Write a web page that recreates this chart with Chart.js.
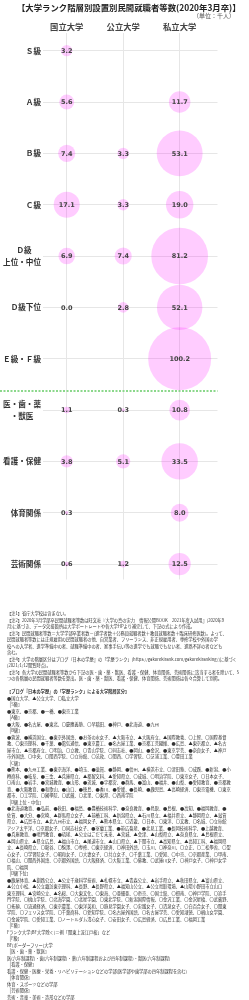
<!DOCTYPE html>
<html lang="ja">
<head>
<meta charset="utf-8">
<script src="https://cdn.jsdelivr.net/npm/chart.js@4.4.1/dist/chart.umd.min.js"></script>
<style>
  body { margin: 0; width: 249px; height: 1000px; overflow: hidden; background: #fff;
         font-family: "Noto Sans CJK JP", sans-serif; color: #333; position: relative; }
  #chart { position: absolute; left: 0; top: 0; }
  #title { position: absolute; left: 17px; top: 1px; font-size: 8.45px; font-weight: bold;
           line-height: 12px; white-space: nowrap; color: #222; }
  #unit { position: absolute; right: 14px; top: 12px; font-size: 6px; line-height: 8px; color: #555; }
  #notes { position: absolute; left: 7px; top: 610px; width: 240px; overflow: hidden;
           font-size: 4.75px; line-height: 6.5px; color: #333; }
  #notes div { white-space: nowrap; height: 6.5px; }
  #notes .hd { font-weight: bold; }
</style>
</head>
<body>
<canvas id="chart" width="249" height="611"></canvas>
<div id="title">【大学ランク階層別設置別民間就職者等数(2020年3月卒)】</div>
<div id="unit">（単位：千人）</div>
<div id="notes"></div>
<script>
// columns (x) and rows (y)
const columns = ['国立大学', '公立大学', '私立大学'];
const rowLabels = [
  ['Ｓ級'], ['Ａ級'], ['Ｂ級'], ['Ｃ級'], ['Ｄ級　 ', '上位・中位'], ['Ｄ級下位'],
  ['Ｅ級・Ｆ級'], ['医・歯・薬', '・獣医　'], ['看護・保健'], ['体育関係'], ['芸術関係']
];

// 千人, null = no entry
const national = [3.2, 5.6, 7.4, 17.1, 6.9, 0.0, null, 1.1, 3.8, 0.3, 0.6];
const publicUniv = [null, null, 3.3, 3.3, 7.4, 2.8, null, 0.3, 5.1, null, 1.2];
const privateUniv = [null, 11.7, 53.1, 19.0, 81.2, 52.1, 100.2, 10.8, 33.5, 8.0, 12.5];

const rScale = 3.147; // bubble area proportional to value
const dividerAt = 6.62; // between E級・F級 and 医・歯・薬

function toPoints(values, col) {
  const pts = [];
  values.forEach((v, i) => {
    if (v === null) return;
    pts.push({ x: col, y: i, r: rScale * Math.sqrt(v), v: v });
  });
  return pts;
}

const bubbleFill = 'rgba(255, 0, 255, 0.2)';

const valueLabels = {
  id: 'valueLabels',
  afterDatasetsDraw(chart) {
    const ctx = chart.ctx;
    ctx.save();
    ctx.font = 'bold 6.5px "DejaVu Sans", sans-serif';
    ctx.fillStyle = '#444';
    ctx.textAlign = 'center';
    ctx.textBaseline = 'middle';
    chart.data.datasets.forEach((ds, di) => {
      chart.getDatasetMeta(di).data.forEach((el, i) => {
        ctx.fillText(ds.data[i].v.toFixed(1), el.x, el.y + 0.5);
      });
    });
    ctx.restore();
  }
};

const divider = {
  id: 'divider',
  beforeDatasetsDraw(chart) {
    const ctx = chart.ctx;
    const y = Math.round(chart.scales.y.getPixelForValue(dividerAt));
    ctx.save();
    ctx.strokeStyle = '#8cd88c';
    ctx.lineWidth = 2;
    ctx.setLineDash([2, 1.5]);
    ctx.beginPath();
    ctx.moveTo(0, y);
    ctx.lineTo(chart.chartArea.right, y);
    ctx.stroke();
    ctx.restore();
  }
};

new Chart(document.getElementById('chart'), {
  type: 'bubble',
  data: {
    datasets: [
      { label: columns[0], data: toPoints(national, 0) },
      { label: columns[1], data: toPoints(publicUniv, 1) },
      { label: columns[2], data: toPoints(privateUniv, 2) }
    ]
  },
  options: {
    responsive: false,
    animation: false,
    events: [],
    clip: false,
    layout: { padding: { left: 0, right: 8, top: 0, bottom: 0 } },
    elements: {
      point: { backgroundColor: bubbleFill, borderWidth: 0, hoverRadius: 0 }
    },
    plugins: {
      legend: { display: false },
      tooltip: { enabled: false },
      title: { display: false }
    },
    scales: {
      x: {
        type: 'linear',
        position: 'top',
        min: -0.42,
        max: 2.67,
        afterBuildTicks: (s) => { s.ticks = columns.map((_, i) => ({ value: i })); },
        afterFit: (s) => { s.height = 33; },
        grid: { color: '#e6e6e6', lineWidth: 1, drawTicks: false },
        border: { display: false },
        ticks: {
          padding: 1,
          color: '#444',
          font: { family: '"Noto Sans CJK JP", sans-serif', size: 8.3, weight: 'bold' },
          callback: (v) => columns[v]
        }
      },
      y: {
        type: 'linear',
        reverse: true,
        min: -0.344,
        max: 10.3,
        afterBuildTicks: (s) => { s.ticks = rowLabels.map((_, i) => ({ value: i })); },
        afterFit: (s) => { s.width = 43; },
        grid: { color: '#e6e6e6', lineWidth: 1, drawTicks: false },
        border: { display: false },
        ticks: {
          padding: 2,
          color: '#333',
          font: { family: '"Noto Sans CJK JP", sans-serif', size: 7.6, weight: 'bold', lineHeight: 1.5 },
          callback: (v) => rowLabels[v]
        }
      }
    }
  },
  plugins: [divider, valueLabels]
});

// notes under the chart
const noteLines = [
  '【注1】省庁大学校は含まない。',
  '【注2】2020年3月学部卒民間就職者等数は旺文社『大学の真の実力　情報公開BOOK　2021年度入試用』(2020年9',
  '月)に基づき、データ欠損箇所は大学ポートレートや各大学HPより補完して、下記の式により作成。',
  '【注3】民間就職者等数＝大学学部卒業者数－(進学者数＋公務員就職者数＋教員就職者数＋臨床研修医数)。よって、',
  '民間就職者等数には正規雇用の民間就職者の他、自営業者、フリーランス、非正規雇用者、専修学校や外国の学',
  '校への入学者、進学準備中の者、就職準備中の者、家事手伝い等の進学でも就職でもない者、進路不詳の者なども',
  '含む。',
  '【注4】大学の階層区分はブログ『日本の学歴』の「学歴ランク」(https://gakurekirank.com/gakurekiranking/)に基づく',
  '(2021/1/12閲覧時点)。',
  '【注5】各大学の民間就職者等数から下記の医・歯・薬・獣医、看護・保健、体育関係、芸術関係に該当する者を除いて、5',
  'つの各階層の民間就職者等数を算出。医・歯・薬・獣医、看護・保健、体育関係、芸術関係は各々合算して別掲。',
  '',
  '#【ブログ『日本の学歴』の「学歴ランク」による大学階層区分】',
  '●国立大学、▲公立大学、〇私立大学',
  '［S級］',
  '●東京、●京都、●一橋、●東京工業',
  '［A級］',
  '●大阪、●名古屋、●東北、〇慶應義塾、〇早稲田、●神戸、●北海道、●九州',
  '［B級］',
  '●筑波、●横浜国立、●東京外国語、●お茶の水女子、▲大阪市立、▲大阪府立、▲国際教養、〇上智、〇国際基督',
  '教、〇東京理科、●千葉、●電気通信、●東京農工、●名古屋工業、●京都工芸繊維、●広島、▲東京都立、▲名古',
  '屋市立、▲京都府立、〇明治、〇立教、〇青山学院、〇同志社、●岡山、●金沢、●東京学芸、●奈良女子、▲神戸',
  '市外国語、〇中央、〇関西学院、〇立命館、〇法政、〇関西、〇学習院、〇芝浦工業、〇豊田工業',
  '［C級］',
  '●熊本、●九州工業、●東京海洋、●埼玉、●滋賀、●静岡、●信州、▲横浜市立、〇津田塾、〇成蹊、●新潟、●小',
  '樽商科、●岐阜、●三重、▲兵庫県立、▲都留文科、▲愛知県立、〇成城、〇明治学院、〇東京女子、〇日本女子、',
  '〇南山、●岩手、●宮城教育、●山形、●茨城、●宇都宮、●群馬、●富山、●福井、●山梨、●愛知教育、●京都教',
  '育、●大阪教育、●和歌山、●山口、●徳島、●香川、●愛媛、●長崎、●鹿児島、▲高崎経済、〇東京電機、〇東京',
  '都市、〇工学院、〇國學院、〇武蔵、〇北里、〇東邦、〇西南学院',
  '［D級上位・中位］',
  '●北海道教育、●弘前、●秋田、●福島、●豊橋技術科学、●奈良教育、●鳥取、●島根、●高知、●福岡教育、●',
  '佐賀、●大分、●宮崎、▲群馬県立女子、▲前橋工科、▲新潟県立、▲石川県立、▲福井県立、▲静岡県立、▲滋賀',
  '県立、▲広島市立、▲北九州市立、▲福岡女子、▲熊本県立、〇近畿、〇日本、〇東洋、〇文教、〇名城、〇立命館',
  'アジア太平洋、〇京都女子、〇同志社女子、●室蘭工業、●帯広畜産、●北見工業、●長岡技術科学、●上越教育、',
  '●兵庫教育、●鳴門教育、●琉球、▲公立はこだて未来、▲宮城、▲会津、▲山梨県立、▲奈良県立、▲島根県立、',
  '▲岡山県立、▲県立広島、▲福山市立、▲尾道市立、▲山口県立、▲下関市立、▲高知県立、▲高知工科、▲福岡県',
  '立、▲長崎県立、〇龍谷、〇駒澤、〇専修、〇東京経済、〇神田外語、〇玉川、〇神奈川、〇立正、〇二松學舍、〇聖',
  '心女子、〇学習院女子、〇昭和女子、〇大妻女子、〇共立女子、〇千葉工業、〇愛知、〇中京、〇京都産業、〇甲南、',
  '〇福山、〇関西外国語、〇京都外国語、〇大阪経済、〇大阪工業、〇佛教、〇武庫川女子、〇神戸女子、〇神戸女学',
  '院、〇福岡',
  '［D級下位］',
  '●鹿屋体育、▲釧路公立、▲公立千歳科学技術、▲札幌市立、▲青森公立、▲岩手県立、▲秋田県立、▲富山県立、',
  '▲公立小松、▲公立諏訪東京理科、▲長野、▲長野県立、▲福知山公立、▲公立鳥取環境、▲山陽小野田市立山口',
  '東京理科、▲宮崎公立、▲名桜、〇大東文化、〇東海、〇亜細亜、〇帝京、〇国士舘、〇摂南、〇神戸学院、〇追手',
  '門学院、〇桃山学院、〇北海学園、〇北星学園、〇東北学院、〇新潟国際情報、〇金沢工業、〇金沢星稜、〇武蔵野、',
  '〇拓殖、〇流通経済、〇東京農業、〇東洋英和、〇跡見学園女子、〇実践女子、〇清泉女子、〇白百合女子、〇関東',
  '学院、〇フェリス女学院、〇千葉商科、〇愛知学院、〇名古屋外国語、〇名古屋学芸、〇愛知淑徳、〇椙山女学園、',
  '〇金城学院、〇愛知工業、〇ノートルダム清心女子、〇安田女子、〇広島経済、〇広島工業、〇福岡工業',
  '［E級］',
  'Fランク大学(BF大学除く)＝例「関東上流江戸桜」など',
  '［F級］',
  'BF(ボーダーフリー)大学',
  '［医・歯・薬・獣医］',
  '医(六年制課程)・歯(六年制課程)・薬(六年制課程および四年制課程)・獣医(六年制課程)',
  '［看護・保健］',
  '看護・保健・医療・栄養・リハビリテーションなどの学部(医学部や歯学部の四年制課程を含む)',
  '［体育関係］',
  '体育・スポーツなどの学部',
  '［芸術関係］',
  '芸術・音楽・美術・造形などの学部'
];
const notes = document.getElementById('notes');
const lineEls = noteLines.map((t) => {
  const d = document.createElement('div');
  if (t.startsWith('#')) { d.className = 'hd'; t = t.slice(1); }
  const s = document.createElement('span');
  s.textContent = t;
  d.appendChild(s);
  notes.appendChild(d);
  return s;
});

// fit note font so the longest line spans the note width
let widest = 0;
lineEls.forEach((s) => { widest = Math.max(widest, s.getBoundingClientRect().width); });
if (widest > 0) notes.style.fontSize = (4.75 * 233 / widest) + 'px';

// fit title into 224px
const title = document.getElementById('title');
const tw = title.getBoundingClientRect().width;
if (tw > 0) title.style.fontSize = (8.45 * 224 / tw) + 'px';
</script>
</body>
</html>
